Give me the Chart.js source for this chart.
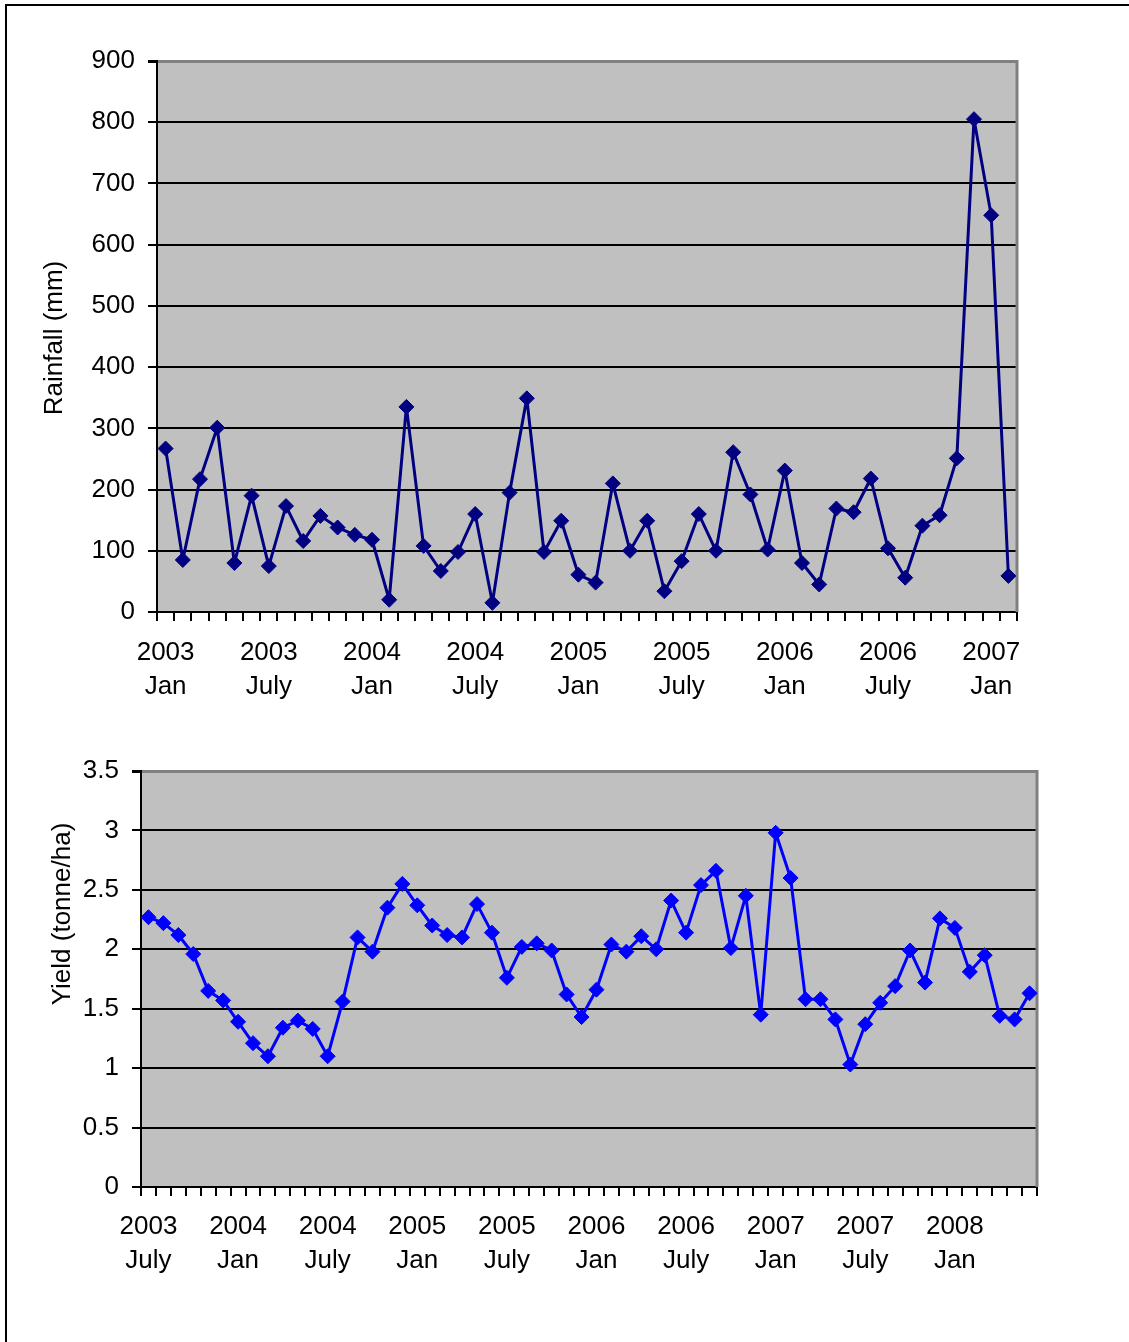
<!DOCTYPE html>
<html>
<head>
<meta charset="utf-8">
<script src="https://cdn.jsdelivr.net/npm/chart.js@4.4.0/dist/chart.umd.min.js"></script>
<style>
  body { margin: 0; background: #fff; width: 1129px; height: 1342px; overflow: hidden; position: relative; }
  #frame { position: absolute; left: 5px; top: 4px; width: 1200px; height: 1400px; border-left: 2px solid #000; border-top: 2px solid #000; }
  .box { position: absolute; left: 0; width: 1129px; }
  #rainBox { top: 0; height: 720px; }
  #yieldBox { top: 720px; height: 622px; }
</style>
</head>
<body>
<div id="frame"></div>
<div class="box" id="rainBox"><canvas id="rainChart"></canvas></div>
<div class="box" id="yieldBox"><canvas id="yieldChart"></canvas></div>
<script>
// monthly categories
const rainMonths = [
  '2003 Jan','2003 Feb','2003 Mar','2003 Apr','2003 May','2003 June','2003 July','2003 Aug','2003 Sep','2003 Oct','2003 Nov','2003 Dec',
  '2004 Jan','2004 Feb','2004 Mar','2004 Apr','2004 May','2004 June','2004 July','2004 Aug','2004 Sep','2004 Oct','2004 Nov','2004 Dec',
  '2005 Jan','2005 Feb','2005 Mar','2005 Apr','2005 May','2005 June','2005 July','2005 Aug','2005 Sep','2005 Oct','2005 Nov','2005 Dec',
  '2006 Jan','2006 Feb','2006 Mar','2006 Apr','2006 May','2006 June','2006 July','2006 Aug','2006 Sep','2006 Oct','2006 Nov','2006 Dec',
  '2007 Jan','2007 Feb'
];
const yieldMonths = [
  '2003 July','2003 Aug','2003 Sep','2003 Oct','2003 Nov','2003 Dec',
  '2004 Jan','2004 Feb','2004 Mar','2004 Apr','2004 May','2004 June','2004 July','2004 Aug','2004 Sep','2004 Oct','2004 Nov','2004 Dec',
  '2005 Jan','2005 Feb','2005 Mar','2005 Apr','2005 May','2005 June','2005 July','2005 Aug','2005 Sep','2005 Oct','2005 Nov','2005 Dec',
  '2006 Jan','2006 Feb','2006 Mar','2006 Apr','2006 May','2006 June','2006 July','2006 Aug','2006 Sep','2006 Oct','2006 Nov','2006 Dec',
  '2007 Jan','2007 Feb','2007 Mar','2007 Apr','2007 May','2007 June','2007 July','2007 Aug','2007 Sep','2007 Oct','2007 Nov','2007 Dec',
  '2008 Jan','2008 Feb','2008 Mar','2008 Apr','2008 May','2008 June'
];

// Rainfall (mm)
const rainfall = [267, 85, 217, 301, 80, 190, 75, 173, 116, 157,
                  138, 126, 118, 20, 335, 108, 67, 98, 160, 15,
                  195, 349, 98, 149, 61, 48, 210, 100, 149, 34,
                  83, 160, 100, 261, 192, 102, 231, 80, 45, 169,
                  163, 218, 104, 56, 141, 158, 251, 805, 648, 59];

// Yield (tonne/ha)
const yieldValues = [2.27, 2.22, 2.12, 1.96, 1.65, 1.57, 1.39, 1.21, 1.10, 1.34,
                     1.40, 1.33, 1.10, 1.56, 2.10, 1.98, 2.35, 2.55, 2.37, 2.20,
                     2.12, 2.10, 2.38, 2.14, 1.76, 2.02, 2.05, 1.99, 1.62, 1.43,
                     1.66, 2.04, 1.98, 2.11, 2.00, 2.41, 2.14, 2.54, 2.66, 2.01,
                     2.45, 1.45, 2.98, 2.60, 1.58, 1.58, 1.41, 1.03, 1.37, 1.55,
                     1.69, 1.99, 1.72, 2.26, 2.18, 1.81, 1.95, 1.44, 1.41, 1.63];

const FONT_FAMILY = '"Liberation Sans", Arial, sans-serif';

// grey plot background + grey right edge, like the old Excel look
const plotFrame = {
  id: 'plotFrame',
  beforeDraw(chart) {
    const a = chart.chartArea, ctx = chart.ctx;
    ctx.save();
    ctx.fillStyle = '#c0c0c0';
    ctx.fillRect(a.left, a.top, a.right - a.left, a.bottom - a.top);
    ctx.restore();
  },
  beforeDatasetsDraw(chart) {
    const a = chart.chartArea, ctx = chart.ctx;
    ctx.save();
    ctx.strokeStyle = '#808080';
    ctx.lineWidth = 3;
    ctx.beginPath();
    ctx.moveTo(a.right, a.top - 1);
    ctx.lineTo(a.right, a.bottom);
    ctx.stroke();
    ctx.restore();
  }
};

// rotated y title at a fixed place
const yTitle = {
  id: 'yTitle',
  afterDraw(chart, args, opts) {
    const ctx = chart.ctx;
    ctx.save();
    ctx.translate(opts.x, opts.y);
    ctx.rotate(-Math.PI / 2);
    ctx.font = '26px ' + FONT_FAMILY;
    ctx.fillStyle = '#000';
    ctx.textAlign = 'center';
    ctx.textBaseline = 'middle';
    ctx.fillText(opts.text, 0, 0);
    ctx.restore();
  }
};

function makeChart(id, labels, values, color, yMax, step, yWidth, xHeight, padRight, padTop, xPad, title) {
  return new Chart(document.getElementById(id), {
    type: 'line',
    data: {
      labels: labels,
      datasets: [{
        data: values,
        borderColor: color,
        backgroundColor: color,
        borderWidth: 3,
        borderJoinStyle: 'round',
        pointStyle: 'rectRot',
        pointRadius: 7.5,
        pointBorderWidth: 1,
        tension: 0
      }]
    },
    options: {
      responsive: true,
      maintainAspectRatio: false,
      animation: false,
      layout: { padding: { left: 0, right: padRight, top: padTop, bottom: 0 } },
      plugins: {
        legend: { display: false },
        tooltip: { enabled: false },
        yTitle: title
      },
      scales: {
        x: {
          offset: true,
          grid: { offset: true, drawOnChartArea: false, color: '#000', lineWidth: 2, tickLength: 9 },
          border: { color: '#000', width: 2 },
          ticks: {
            autoSkip: false, maxRotation: 0, minRotation: 0, color: '#000', padding: xPad,
            font: { family: FONT_FAMILY, size: 26, lineHeight: 1.3 },
            callback: function (v, i) {
              return i % 6 === 0 ? this.getLabelForValue(v).split(' ') : '';
            }
          },
          afterFit: s => { s.height = xHeight; }
        },
        y: {
          min: 0, max: yMax,
          grid: {
            color: c => (c.tick && c.tick.value === yMax) ? '#808080' : '#000',
            lineWidth: c => (c.tick && c.tick.value === yMax) ? 3 : 2,
            tickColor: '#000', tickLength: 9
          },
          border: { color: '#000', width: 2 },
          ticks: {
            stepSize: step, color: '#000', padding: 13,
            font: { family: FONT_FAMILY, size: 26 },
            callback: v => String(v)
          },
          afterFit: s => { s.width = yWidth; }
        }
      }
    },
    plugins: [plotFrame, yTitle]
  });
}

makeChart('rainChart', rainMonths, rainfall, '#000080', 900, 100, 157, 108, 112, 61, 15,
  { text: 'Rainfall (mm)', x: 55, y: 338 });
makeChart('yieldChart', yieldMonths, yieldValues, '#0000ff', 3.5, 0.5, 141, 155, 92, 51, 14,
  { text: 'Yield (tonne/ha)', x: 63, y: 194 });
</script>
</body>
</html>
